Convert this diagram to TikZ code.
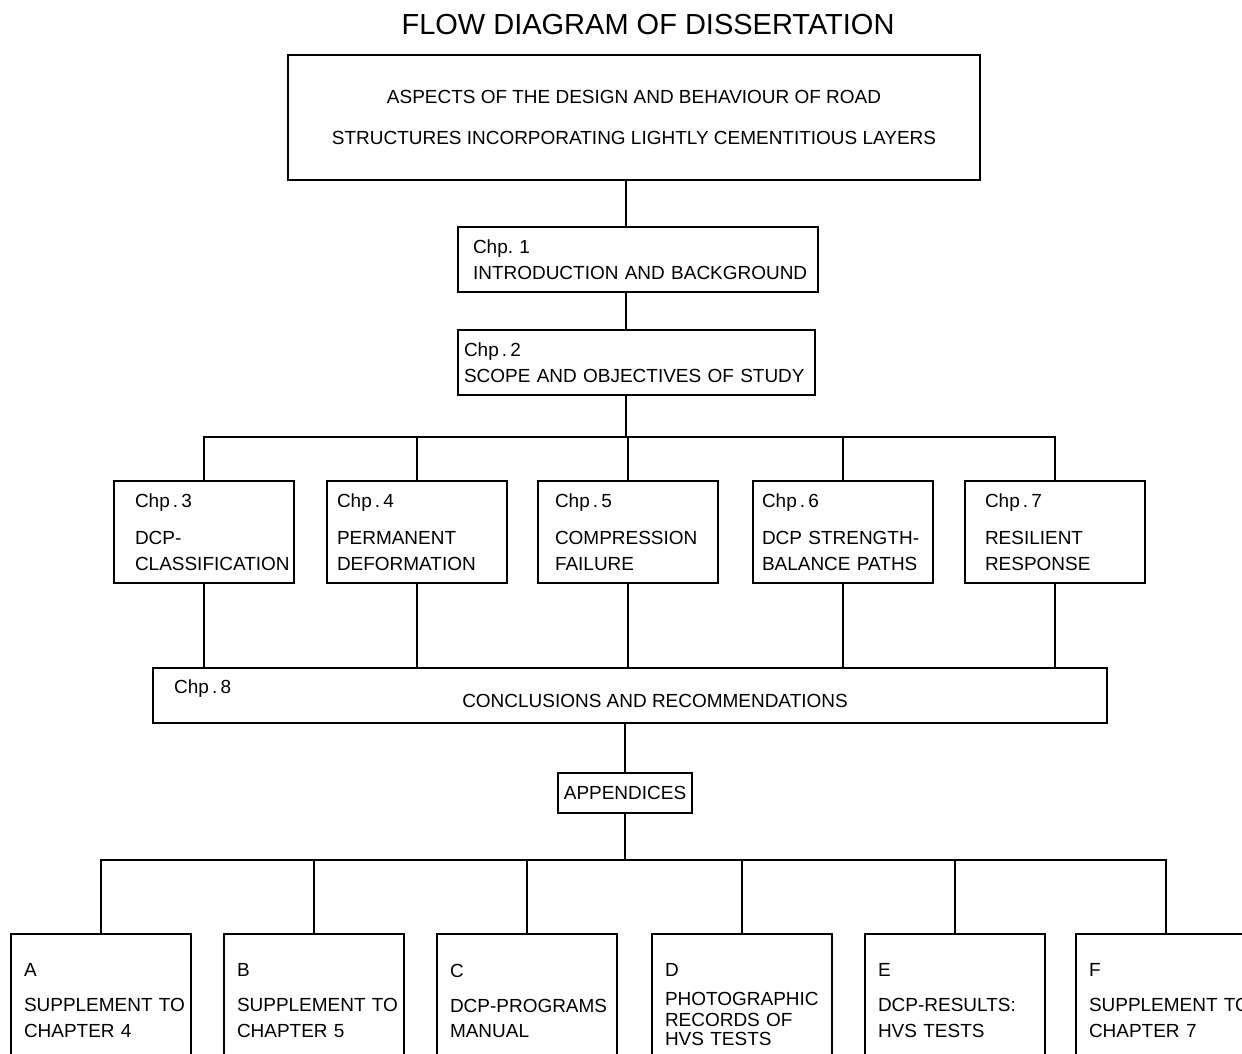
\documentclass[tikz,border=0pt]{standalone}
\usepackage{fontspec}
\setmainfont{Liberation Sans}
\newcommand{\chapfont}{\fontsize{10.8}{14.5}\selectfont}
\tikzset{
    box/.style={draw, rectangle, line width=1pt, inner sep=0pt, font=\chapfont,
        execute at begin node={\hyphenpenalty=10000\exhyphenpenalty=10000}}, % every framed block, no word breaks
    chap/.style={box, align=left, inner xsep=#1, text width=3.6cm-2*#1, minimum height=2.04cm}, % the five chapter blocks
    chap/.default=0.3cm,
    appx/.style={box, anchor=north, align=left, inner xsep=0.26cm, inner ysep=0.6cm, text width=3.08cm, text depth=3cm}, % appendix blocks, cut off at the bottom
    link/.style={line width=0.8pt}, % plain connecting lines, no arrow heads
}

\begin{document}
\begin{tikzpicture}[x=0.02cm, y=-0.02cm]
    \useasboundingbox (0,0) rectangle (1242,1054);
    \fill[white] (0,0) rectangle (1242,1054);
    \clip (0,0) rectangle (1242,1054);
    \node[font=\fontsize{16.5}{20}\selectfont] (title) at (648,25) {FLOW DIAGRAM OF DISSERTATION};
    \node[box, align=center, minimum width=13.84cm, minimum height=2.5cm] (aims) at (634,117.5)
        {ASPECTS OF THE DESIGN AND BEHAVIOUR OF ROAD\\[0.3cm]STRUCTURES INCORPORATING LIGHTLY CEMENTITIOUS LAYERS};
    \node[box, align=left, inner xsep=0.3cm, text width=6.6cm, minimum height=1.3cm] (chp1) at (638,259.5)
        {Chp.\ 1\\INTRODUCTION~AND~BACKGROUND};
    \node[box, align=left, inner xsep=0.12cm, text width=6.9cm, minimum height=1.3cm] (chp2) at (636.5,362.5)
        {Chp\,.\,2\\SCOPE~AND~OBJECTIVES~OF~STUDY};
    \coordinate (bus1) at (626,437);
    \node[chap=0.42cm] (chp3) at (204,532) {Chp\,.\,3\\[0.23cm]DCP-\\CLASSIFICATION};
    \node[chap=0.2cm] (chp4) at (417,532) {Chp\,.\,4\\[0.23cm]PERMANENT\\DEFORMATION};
    \node[chap=0.34cm] (chp5) at (628,532) {Chp\,.\,5\\[0.23cm]COMPRESSION\\FAILURE};
    \node[chap=0.18cm] (chp6) at (843,532) {Chp\,.\,6\\[0.23cm]DCP~STRENGTH-\\BALANCE~PATHS};
    \node[chap=0.4cm] (chp7) at (1055,532) {Chp\,.\,7\\[0.23cm]RESILIENT\\RESPONSE};
    \node[box, minimum width=19.08cm, minimum height=1.1cm] (chp8) at (630,695.5) {};
    \node[font=\chapfont, anchor=west] (chp8no) at (168,689) {Chp\,.\,8};
    \node[font=\chapfont] (chp8text) at (655,701) {CONCLUSIONS AND RECOMMENDATIONS};
    \node[box, minimum width=2.68cm, minimum height=0.8cm] (appendices) at (625,793) {APPENDICES};
    \coordinate (bus2) at (625,860);
    \node[appx] (apA) at (101,933) {A\\[0.19cm]SUPPLEMENT~TO\\CHAPTER~4};
    \node[appx] (apB) at (314,933) {B\\[0.19cm]SUPPLEMENT~TO\\CHAPTER~5};
    \node[appx] (apC) at (527,933) {C\\[0.19cm]DCP-PROGRAMS\\MANUAL};
    \node[appx] (apD) at (742,933) {D\\[0.07cm]PHOTOGRAPHIC\\[-0.1cm]RECORDS~OF\\[-0.12cm]HVS~TESTS};
    \node[appx] (apE) at (955,933) {E\\[0.19cm]DCP-RESULTS:\\HVS~TESTS};
    \node[appx] (apF) at (1166,933) {F\\[0.19cm]SUPPLEMENT~TO\\CHAPTER~7};
    \draw[link]
    (aims.south -| bus1) -- (chp1.north -| bus1)
    (chp1.south -| bus1) -- (chp2.north -| bus1)
    (chp2.south -| bus1) -- (bus1)
    (chp3.north) |- (bus1)
    (chp4.north) |- (bus1)
    (chp5.north) |- (bus1)
    (chp6.north) |- (bus1)
    (chp7.north) |- (bus1)
    (chp3.south) -- (chp3.south |- chp8.north)
    (chp4.south) -- (chp4.south |- chp8.north)
    (chp5.south) -- (chp5.south |- chp8.north)
    (chp6.south) -- (chp6.south |- chp8.north)
    (chp7.south) -- (chp7.south |- chp8.north)
    (chp8.south -| appendices) -- (appendices.north)
    (appendices.south) -- (bus2)
    (apA.north) |- (bus2)
    (apB.north) |- (bus2)
    (apC.north) |- (bus2)
    (apD.north) |- (bus2)
    (apE.north) |- (bus2)
    (apF.north) |- (bus2);
\end{tikzpicture}
\end{document}
